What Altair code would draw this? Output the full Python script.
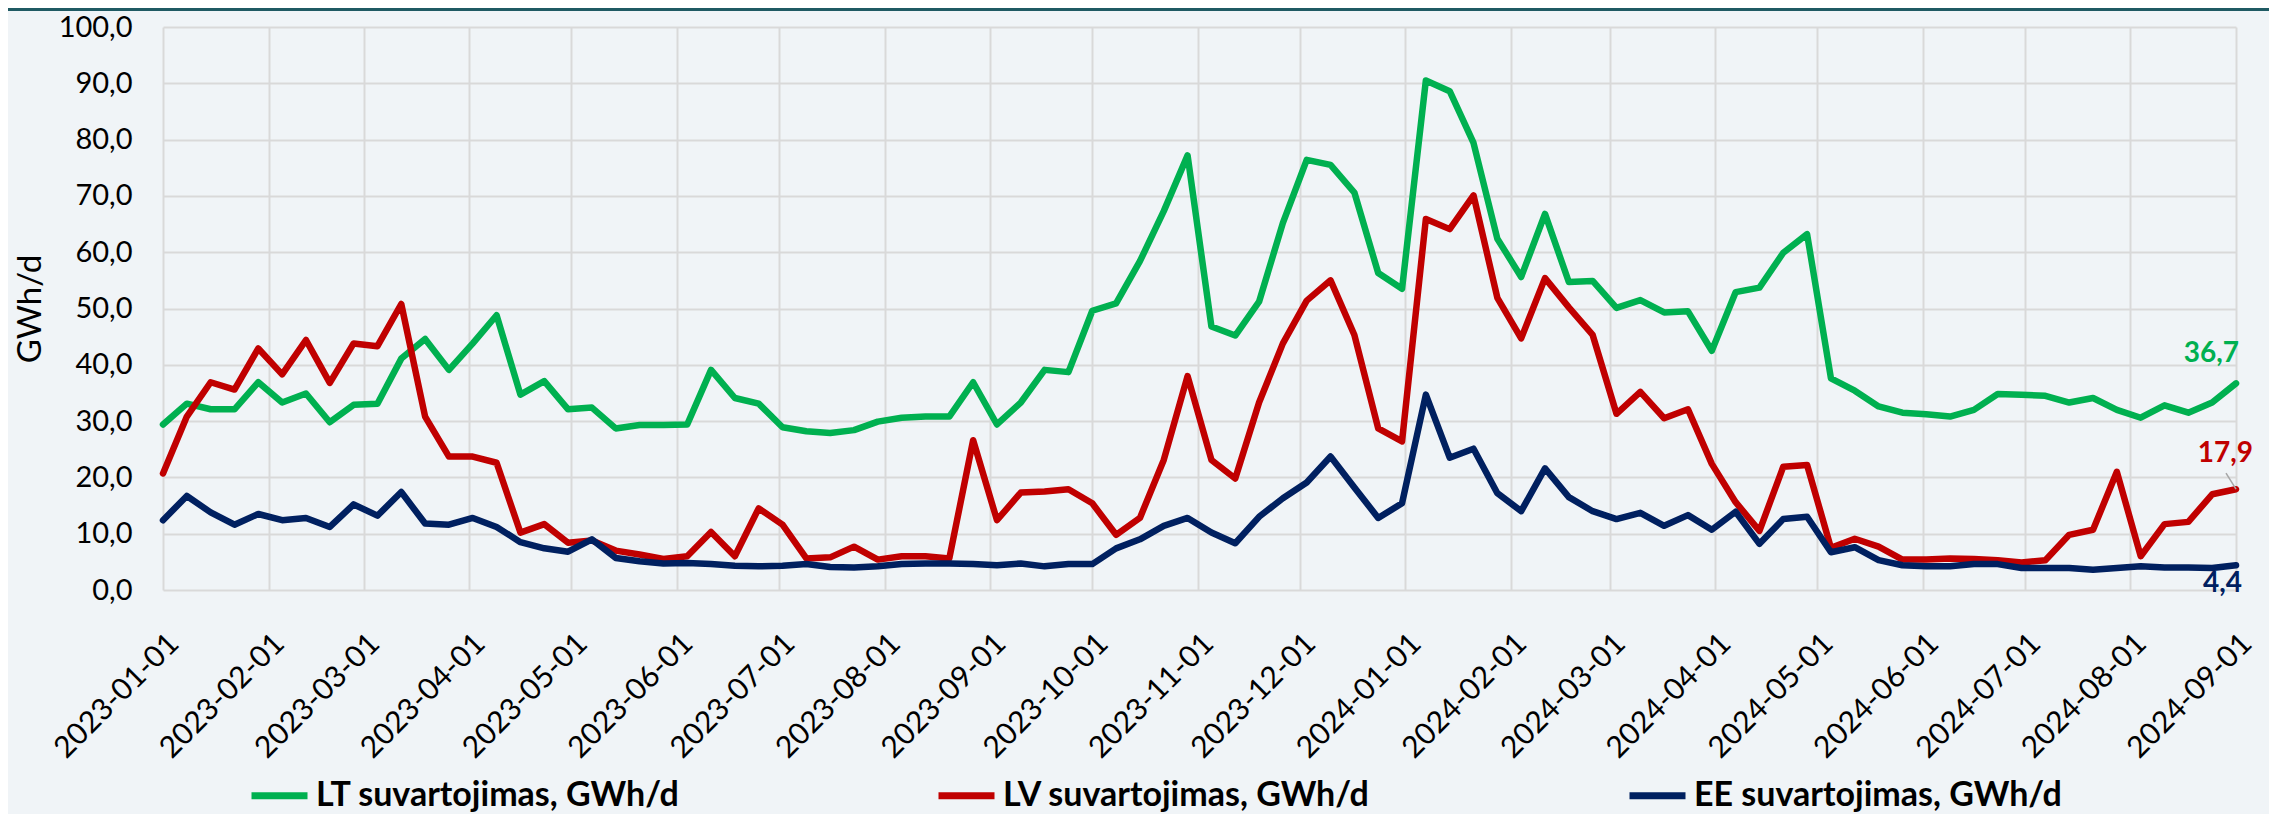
import altair as alt
import pandas as pd

# ---- data (weekly, starting 2023-01-01) ----
lt = [29.4, 33.1, 32.1, 32.1, 36.9, 33.3, 34.9, 29.8, 32.9, 33.1,
      41.1, 44.6, 39.1, 43.8, 48.8, 34.7, 37.1, 32.1, 32.4, 28.7,
      29.3, 29.3, 29.4, 39.1, 34.1, 33.1, 28.9, 28.2, 27.9, 28.4,
      29.9, 30.6, 30.8, 30.8, 36.9, 29.4, 33.3, 39.1, 38.7, 49.6,
      50.9, 58.4, 67.3, 77.2, 46.8, 45.2, 51.2, 65.2, 76.4, 75.5,
      70.6, 56.3, 53.5, 90.5, 88.6, 79.4, 62.4, 55.6, 66.8, 54.7,
      54.9, 50.1, 51.5, 49.3, 49.5, 42.5, 52.9, 53.7, 59.9, 63.2,
      37.6, 35.4, 32.6, 31.5, 31.2, 30.8, 32.0, 34.8, 34.7, 34.5,
      33.3, 34.1, 32.0, 30.6, 32.8, 31.5, 33.3, 36.7]
lv = [20.7, 30.8, 36.9, 35.6, 42.9, 38.3, 44.4, 36.8, 43.8, 43.3,
      50.8, 30.8, 23.7, 23.7, 22.6, 10.2, 11.7, 8.4, 8.8, 7.0,
      6.3, 5.5, 6.0, 10.3, 6.0, 14.5, 11.6, 5.6, 5.8, 7.7,
      5.4, 6.0, 6.0, 5.6, 26.6, 12.4, 17.3, 17.5, 17.9, 15.4,
      9.8, 12.8, 23.1, 38.0, 23.1, 19.8, 33.3, 43.8, 51.4, 55.0,
      45.3, 28.7, 26.4, 65.9, 64.1, 70.1, 51.9, 44.7, 55.4, 50.2,
      45.3, 31.3, 35.2, 30.5, 32.1, 22.4, 15.6, 10.5, 21.9, 22.2,
      7.5, 9.1, 7.7, 5.4, 5.4, 5.6, 5.5, 5.3, 4.9, 5.3,
      9.8, 10.7, 21.0, 6.0, 11.7, 12.1, 17.0, 17.9]
ee = [12.4, 16.7, 13.8, 11.6, 13.5, 12.4, 12.8, 11.2, 15.2, 13.2,
      17.4, 11.8, 11.6, 12.8, 11.2, 8.5, 7.4, 6.8, 9.0, 5.7,
      5.1, 4.7, 4.8, 4.6, 4.3, 4.2, 4.3, 4.6, 4.1, 4.0,
      4.2, 4.6, 4.7, 4.7, 4.6, 4.4, 4.7, 4.2, 4.6, 4.6,
      7.4, 9.0, 11.4, 12.8, 10.2, 8.3, 13.0, 16.3, 19.1, 23.7,
      18.2, 12.8, 15.4, 34.7, 23.5, 25.1, 17.2, 14.0, 21.6, 16.5,
      14.0, 12.6, 13.7, 11.4, 13.3, 10.7, 13.9, 8.2, 12.6, 13.0,
      6.7, 7.6, 5.3, 4.4, 4.2, 4.2, 4.6, 4.6, 3.9, 3.9,
      3.9, 3.6, 3.9, 4.2, 4.0, 4.0, 3.9, 4.4]

series_names = ["LT suvartojimas, GWh/d", "LV suvartojimas, GWh/d", "EE suvartojimas, GWh/d"]
series_colors = ["#00b050", "#c00000", "#002060"]
y_ticks = [0, 10, 20, 30, 40, 50, 60, 70, 80, 90, 100]

dates = pd.date_range("2023-01-01", periods=len(lt), freq="7D")
month_ticks = pd.date_range("2023-01-01", "2024-09-01", freq="MS")


def ms(ts):
    return int(pd.Timestamp(ts).tz_localize("UTC").timestamp() * 1000)


tick_ms = [ms(t) for t in month_ticks]
domain_ms = [ms(dates[0]), ms(dates[-1])]

rows = []
for name, vals in zip(series_names, [lt, lv, ee]):
    for d, v in zip(dates, vals):
        rows.append({"date": ms(d), "series": name, "value": v})
df = pd.DataFrame(rows)

ends = pd.DataFrame({
    "date": [ms(dates[-1])] * 3,
    "series": series_names,
    "value": [lt[-1], lv[-1], ee[-1]],
})

FONT = "Lato"
BG = "#f0f4f7"
GRID = "#d9d9d9"

x_enc = alt.X(
    "date:T",
    scale=alt.Scale(type="utc", domain=domain_ms, nice=False),
    axis=alt.Axis(
        values=tick_ms, format="%Y-%m-%d", labelAngle=315, labelFontSize=30,
        labelFont=FONT, labelColor="#000000", labelPadding=38,
        labelOverlap=False, labelFlush=False, grid=True, gridColor=GRID,
        gridWidth=2, ticks=False, tickSize=0, domain=False, title=None,
    ),
)
y_enc = alt.Y(
    "value:Q",
    scale=alt.Scale(domain=[0, 100], nice=False),
    axis=alt.Axis(
        values=y_ticks,
        labelExpr="replace(format(datum.value, '.1f'), '.', ',')",
        labelFontSize=29, labelFont=FONT, labelColor="#000000", labelPadding=31,
        ticks=False, tickSize=0, domain=False, grid=True, gridColor=GRID,
        gridWidth=2, title="GWh/d", titleFont=FONT, titleFontSize=33,
        titleFontWeight="normal", titleColor="#000000", titleX=-133,
        titleY=281.5, titleAngle=270, titleAlign="center",
        titleBaseline="middle",
    ),
)
color_enc = alt.Color(
    "series:N",
    scale=alt.Scale(domain=series_names, range=series_colors),
    legend=alt.Legend(
        title=None, orient="none", legendX=85, legendY=737,
        direction="horizontal", symbolType="stroke", symbolSize=3136,
        symbolStrokeWidth=7, labelFontSize=34, labelFont=FONT,
        labelFontWeight="bold", labelColor="#000000", columnPadding=244,
        labelOffset=5, labelLimit=1000, padding=0,
    ),
)

lines = alt.Chart(df).mark_line(
    strokeWidth=6.5, strokeJoin="round", strokeCap="round"
).encode(x=x_enc, y=y_enc, color=color_enc)

label_specs = [(0, 3, -21), (1, 17, -27), (2, 6, 27)]
texts = []
for idx, dx, dy in label_specs:
    t = alt.Chart(ends.iloc[[idx]]).transform_calculate(
        label="replace(format(datum.value, '.1f'), '.', ',')"
    ).mark_text(
        font=FONT, fontSize=28, fontWeight="bold", align="right",
        baseline="alphabetic", dx=dx, dy=dy, color=series_colors[idx],
    ).encode(x="date:T", y="value:Q", text="label:N")
    texts.append(t)

leader = alt.Chart(ends.iloc[[1]]).mark_rule(
    color="#a6a6a6", strokeWidth=1.5, x2Offset=-10, y2Offset=-16
).encode(x="date:T", y="value:Q", x2="date:T", y2="value:Q")

top_border = alt.Chart(pd.DataFrame({"a": [0]})).mark_rule(
    color="#1f5a63", strokeWidth=3
).encode(x=alt.value(-155), x2=alt.value(2106), y=alt.value(-17.5))

chart = alt.layer(top_border, lines, leader, *texts).properties(
    width=2073, height=563,
    padding={"left": 155, "top": 19, "right": 33, "bottom": 224},
    autosize=alt.AutoSizeParams(type="none"),
    background=BG,
).configure_view(stroke=None)

chart.save("out.html", embed_options={"renderer": "svg", "actions": False})
